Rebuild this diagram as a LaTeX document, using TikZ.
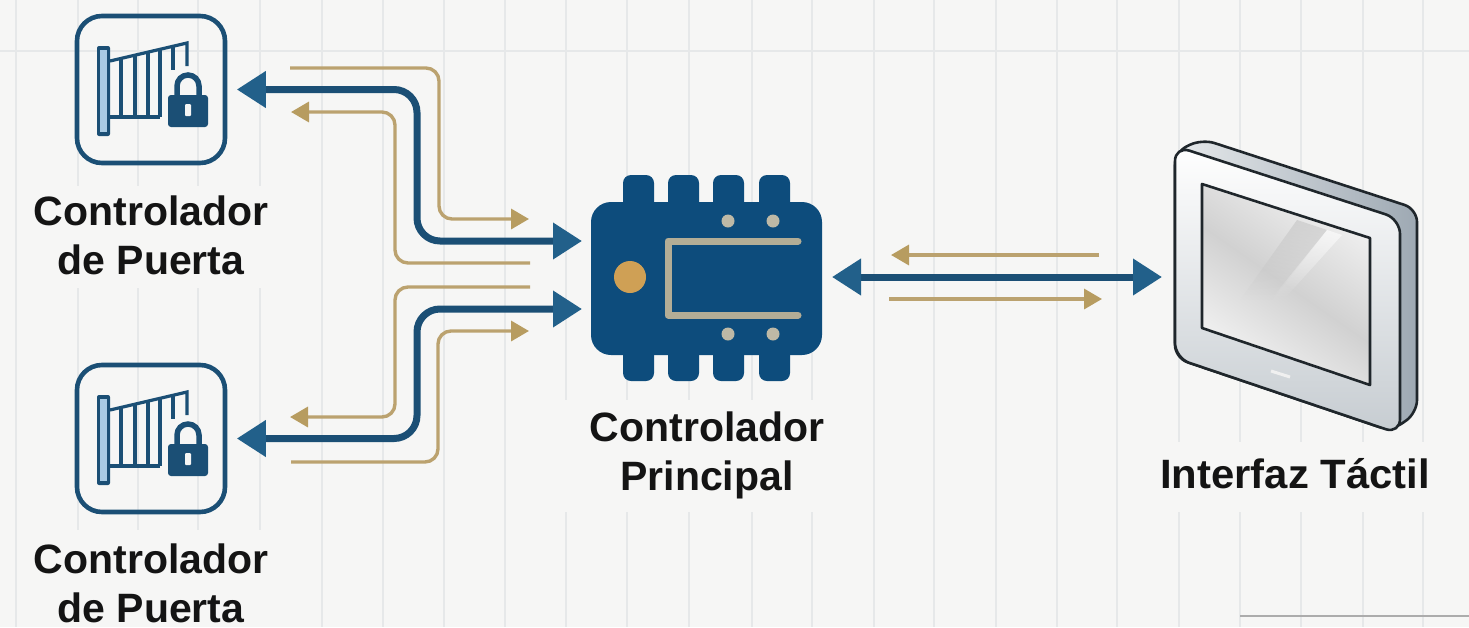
\documentclass[tikz,border=0pt]{standalone}
\usepackage{fontspec}
\usepackage{graphicx}
\setmainfont{Liberation Sans}
\usetikzlibrary{arrows.meta,calc,fadings}
\definecolor{bgc}{HTML}{F6F6F5}
\definecolor{gridc}{HTML}{E6E8E9}
\definecolor{navy}{HTML}{1B4F75}
\definecolor{navyhead}{HTML}{22608A}
\definecolor{chipblue}{HTML}{0D4C7C}
\definecolor{goldl}{HTML}{BBA26F}
\definecolor{goldh}{HTML}{B79C60}
\definecolor{goldc}{HTML}{CFA055}
\definecolor{traced}{HTML}{B3AD96}
\definecolor{inkc}{HTML}{1F262B}
\definecolor{lblc}{HTML}{141414}
\definecolor{postc}{HTML}{A9CBE4}
\definecolor{sidel}{HTML}{E6E9EB}
\definecolor{sided}{HTML}{9EA9B3}
\definecolor{faced}{HTML}{C6CCD1}
\tikzset{
  gridl/.style={draw=gridc,line width=1.3},
  halo/.style={fill=bgc,draw=none},
  blueflow/.style={draw=navy,line width=7,rounded corners=23},
  goldflow/.style={draw=goldl,line width=3.4,rounded corners=13},
  iconbox/.style={draw=navy,line width=4.6,rounded corners=25,minimum width=148,minimum height=147,inner sep=0},
  lbl/.style={text=lblc,align=center,inner sep=0,font=\fontsize{41}{49}\selectfont\bfseries},
  pin/.style={fill=chipblue,rounded corners=8},
  gateline/.style={draw=navy,line width=3.2},
  gatepic/.pic={
    \fill[navy,rounded corners=2] (97,46) rectangle (110,136);
    \fill[postc] (100,50) rectangle (107,132);
    \draw[gateline] (110,61) -- (187,43) -- (187,66);
    \draw[gateline] (110,117) -- (160,117);
    \foreach \bx/\by in {121/59,135/56,148/53,160/50} \draw[gateline] (\bx,\by) -- (\bx,117);
    \draw[gateline] (173,47) -- (173,70);
    \draw[draw=navy,line width=5.5] (177,98) -- (177,86) arc[start angle=180,end angle=360,radius=11] -- (199,98);
    \fill[navy,rounded corners=3] (168,95) rectangle (208,127);
    \fill[bgc,rounded corners=1] (185,104) rectangle (191,116);
  }
}
\begin{document}
\begin{tikzpicture}[x=1pt,y=-1pt]
\useasboundingbox (0,0) rectangle (1469,627);
\fill[bgc] (0,0) rectangle (1469,627);
% background grid
\foreach \gx in {16,78,138,198,260,322,383,444,505,566,627,689,752,812,874,934,996,1057,1117,1179,1240,1301,1363,1423}
  \draw[gridl] (\gx,0) -- (\gx,627);
\draw[gridl] (0,51) -- (1469,51);
\draw[draw=gray!65,line width=1.5] (1240,616) -- (1469,616);
% label halos
\fill[halo] (28,186) rectangle (282,288);
\fill[halo] (28,530) rectangle (282,627);
\fill[halo] (560,400) rectangle (830,512);
\fill[halo] (1130,442) rectangle (1469,512);

% gate controllers
\node[iconbox] (gate1) at (151,89.5) {};
\node[iconbox] (gate2) at (151,438.5) {};
\pic at (0,0) {gatepic};
\pic at (0,349) {gatepic};

% chip
\fill[pin] (623,175) rectangle (654,215);
\fill[pin] (668,175) rectangle (699,215);
\fill[pin] (713,175) rectangle (744,215);
\fill[pin] (759,175) rectangle (790,215);
\fill[pin] (623,340) rectangle (654,381);
\fill[pin] (668,340) rectangle (699,381);
\fill[pin] (713,340) rectangle (744,381);
\fill[pin] (759,340) rectangle (790,381);
\node[fill=chipblue,rounded corners=20,minimum width=231,minimum height=153,inner sep=0] (chip) at (706.5,278.5) {};
\fill[goldc] (630,277) circle[radius=16];
\draw[traced,line width=7,line cap=round,line join=round] (798,241) -- (668,241) -- (668,315) -- (798,315);
\foreach \dx/\dy in {728/221,773/221,728/334,773/334} \fill[traced!85!white] (\dx,\dy) circle[radius=6.5];

% tablet
\path[shade,left color=sidel,right color=sided,draw=inkc,line width=2.6,rounded corners=13]
  (1175,152) -- (1202,139) -- (1417,209) -- (1417,413) -- (1391,431) -- (1175,358) -- cycle;
\path[shade,top color=white,bottom color=faced,draw=inkc,line width=2.6,rounded corners=15]
  (1175,146) -- (1400,219) -- (1400,434) -- (1175,358) -- cycle;
\begin{scope}
\clip (1202,184) -- (1370,238) -- (1370,385) -- (1202,328) -- cycle;
\shade[top color=gray!10!white,bottom color=gray!8!white,middle color=gray!36!white,shading angle=-35] (1200,180) rectangle (1372,390);
\fill[gray!55!white,opacity=.45,path fading=south] (1297,220) -- (1327,230) -- (1272,300) -- (1240,300) -- cycle;
\fill[white,opacity=.6,path fading=south] (1327,230) -- (1342,235) -- (1285,298) -- (1272,298) -- cycle;
\end{scope}
\draw[draw=inkc,line width=2.6,line join=round] (1202,184) -- (1370,238) -- (1370,385) -- (1202,328) -- cycle;
\draw[draw=white!88!gray,line width=3] (1271,371) -- (1290,377);
\node[inner sep=0,minimum width=225,minimum height=285] (tablet) at (1287.5,290) {};

% connection points
\coordinate (tabW) at (1175,277);
\coordinate (chipE) at (822,277);
\coordinate (chipW1) at (591,241);
\coordinate (chipW2) at (591,309);
\coordinate (mb1) at (417,165);
\coordinate (mb2) at (417,375);
% gold free ends
\coordinate (ga1) at (290,68);   \coordinate (gm1) at (439,140);  \coordinate (gb1) at (529,219);
\coordinate (ga2) at (530,263);  \coordinate (gm2) at (395,190);  \coordinate (gb2) at (291,112);
\coordinate (ga3) at (530,287);  \coordinate (gm3) at (395,350);  \coordinate (gb3) at (290,417);
\coordinate (ga4) at (291,462);  \coordinate (gm4) at (438,400);  \coordinate (gb4) at (529,331);
\coordinate (ga5) at (1099,255); \coordinate (gb5) at (891,255);
\coordinate (ga6) at (889,299);  \coordinate (gb6) at (1102,299);

% gold connectors
\draw[goldflow,-{Triangle[length=18pt,width=20pt,color=goldh]}] (ga1) -| (gm1) |- (gb1);
\draw[goldflow,-{Triangle[length=18pt,width=20pt,color=goldh]}] (ga2) -| (gm2) |- (gb2);
\draw[goldflow,-{Triangle[length=18pt,width=20pt,color=goldh]}] (ga3) -| (gm3) |- (gb3);
\draw[goldflow,-{Triangle[length=18pt,width=20pt,color=goldh]}] (ga4) -| (gm4) |- (gb4);
\draw[goldflow,-{Triangle[length=18pt,width=20pt,color=goldh]}] (ga5) -- (gb5);
\draw[goldflow,-{Triangle[length=18pt,width=20pt,color=goldh]}] (ga6) -- (gb6);

% blue connectors
\draw[blueflow,{Triangle[length=29pt,width=35pt,color=navyhead]}-{Triangle[length=29pt,width=35pt,color=navyhead]},shorten <=9.5pt,shorten >=9pt] (gate1.east) -| (mb1) |- (chipW1);
\draw[blueflow,{Triangle[length=29pt,width=35pt,color=navyhead]}-{Triangle[length=29pt,width=35pt,color=navyhead]},shorten <=9.5pt,shorten >=9pt] (gate2.east) -| (mb2) |- (chipW2);
\draw[blueflow,{Triangle[length=29pt,width=35pt,color=navyhead]}-{Triangle[length=29pt,width=35pt,color=navyhead]},shorten <=10pt,shorten >=13pt] (chipE) -- (tabW);

% labels
\node[lbl] (l1) at (151,235) {Controlador\\de Puerta};
\node[lbl] (l2) at (151,583) {Controlador\\de Puerta};
\node[lbl] (l3) at (707,455) {Controlador\\Principal};
\node[lbl] (l4) at (1295,474) {\scalebox{1.02}[1]{Interfaz Táctil}};
\end{tikzpicture}
\end{document}
